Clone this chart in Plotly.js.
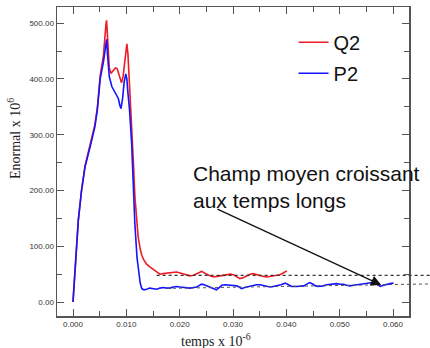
<!DOCTYPE html>
<html>
<head>
<meta charset="utf-8">
<script src="https://cdn.plot.ly/plotly-3.0.1.min.js"></script>
<style>html,body{margin:0;padding:0;background:#fff;}#chart{width:430px;height:348px;}</style>
</head>
<body>
<div id="chart"></div>
<script>
// Q2 (red) series
const q2Time = [0, 0.00075, 0.0010, 0.0016, 0.00225, 0.0032, 0.0041, 0.00456, 0.0051, 0.0057, 0.0059, 0.0062, 0.0063, 0.0064, 0.0066, 0.0068, 0.0071, 0.0076, 0.0080, 0.0083, 0.0086, 0.0089, 0.0091, 0.0094, 0.0097, 0.0100, 0.0101, 0.0103, 0.0105, 0.0107, 0.0110, 0.0113, 0.0116, 0.0119, 0.0122, 0.0126, 0.0129, 0.0133, 0.0138, 0.0144, 0.0151, 0.0157, 0.0163, 0.0169, 0.0176, 0.0182, 0.0188, 0.0194, 0.0201, 0.0207, 0.0213, 0.0219, 0.0226, 0.0232, 0.0237, 0.0241, 0.0246, 0.0251, 0.0257, 0.0263, 0.0270, 0.0276, 0.0282, 0.0288, 0.0295, 0.0301, 0.0307, 0.0313, 0.0320, 0.0326, 0.0332, 0.0338, 0.0344, 0.0351, 0.0357, 0.0363, 0.0370, 0.0376, 0.0382, 0.0388, 0.0394, 0.0398, 0.0401];
const q2Value = [0, 100, 147, 200, 244, 282, 318, 348, 406, 442, 470, 500, 505, 490, 440, 420, 410, 416, 420, 418, 408, 395, 393, 405, 430, 460, 463, 445, 410, 374, 320, 255, 190, 145, 118, 95, 84, 75, 68, 63, 58, 53, 50, 51, 52, 53, 54, 54, 52, 50, 48, 47, 48, 50, 53, 55, 53, 50, 47, 45, 46, 47, 49, 50, 50, 49, 46, 42, 44, 47, 50, 51, 49, 47, 46, 45, 46, 47, 48, 49, 52, 55, 56];

// P2 (blue) series
const p2Time = [0, 0.00075, 0.0010, 0.0016, 0.00225, 0.0032, 0.0041, 0.00456, 0.0051, 0.0057, 0.0061, 0.0063, 0.0065, 0.0068, 0.0073, 0.0079, 0.0085, 0.0088, 0.0090, 0.0093, 0.0096, 0.0099, 0.0101, 0.0103, 0.0106, 0.0110, 0.0113, 0.0116, 0.0120, 0.0123, 0.0126, 0.0129, 0.0133, 0.0138, 0.0144, 0.0151, 0.0157, 0.0163, 0.0169, 0.0176, 0.0182, 0.0188, 0.0194, 0.0201, 0.0207, 0.0213, 0.0219, 0.0226, 0.0232, 0.0237, 0.0241, 0.0246, 0.0251, 0.0257, 0.0263, 0.0269, 0.0274, 0.0279, 0.0285, 0.0294, 0.0301, 0.0307, 0.0313, 0.0316, 0.0322, 0.0329, 0.0336, 0.0344, 0.0351, 0.0359, 0.0365, 0.0371, 0.0377, 0.0383, 0.0390, 0.0395, 0.0398, 0.0404, 0.0410, 0.0419, 0.0426, 0.0433, 0.0440, 0.0444, 0.0450, 0.0455, 0.0460, 0.0465, 0.0469, 0.0476, 0.0482, 0.0488, 0.0494, 0.0500, 0.0507, 0.0513, 0.0519, 0.0526, 0.0532, 0.0538, 0.0544, 0.0550, 0.0557, 0.0562, 0.0566, 0.0571, 0.0576, 0.0582, 0.0588, 0.0595, 0.0601];
const p2Value = [0, 100, 147, 200, 242, 278, 314, 344, 400, 430, 460, 471, 440, 404, 386, 374, 365, 352, 347, 365, 395, 409, 400, 375, 345, 284, 210, 140, 80, 50, 34, 24, 22, 23, 25, 24, 23, 25, 26, 25, 25, 27, 28, 27, 26, 25, 25, 26, 27, 30, 32, 31, 29, 27, 25, 22, 26, 30, 31, 30, 30, 29, 26, 24, 26, 28, 30, 31, 31, 30, 28, 27, 28, 30, 31, 33, 34, 31, 28, 28, 28, 29, 33, 35, 32, 29, 28, 28, 29, 31, 32, 33, 33, 32, 32, 30, 29, 30, 31, 31, 32, 33, 34, 35, 35, 31, 28, 30, 32, 33, 34];

// Mean-level guide lines (value at start, value at end)
const upperMean = [48, 48];
const lowerMean = [24.5, 32.5];

// Texts
const noteText = "Champ moyen croissant<br>aux temps longs";
const xTitle = 'temps x 10<sup>-6</sup>';
const yTitle = 'Enormal x 10<sup>6</sup>';
const arrowTip = [0.0578, 30.5];
const arrowTail = [0.0268, 168];
const noteAnchor = [0.0222, 255];

const axisColor = '#555';
const tickFont = {family: 'Liberation Sans, Arial, sans-serif', size: 8, color: '#333'};
const titleFont = {family: 'Liberation Serif, Times New Roman, serif', size: 14, color: '#222'};

const traces = [
  {x: q2Time, y: q2Value, type: 'scatter', mode: 'lines', name: 'Q2', legendgroup: 'a',
   line: {color: '#ee1c24', width: 1.6}},
  {x: p2Time, y: p2Value, type: 'scatter', mode: 'lines', name: 'P2', legendgroup: 'b',
   line: {color: '#1414ff', width: 1.6}}
];

const layout = {
  width: 430, height: 348,
  margin: {l: 57, r: 21, t: 7, b: 32},
  paper_bgcolor: '#fff', plot_bgcolor: '#fff',
  showlegend: true,
  legend: {x: 0.672, y: 0.949, xanchor: 'left', yanchor: 'top', bgcolor: 'rgba(0,0,0,0)',
           font: {family: 'Liberation Sans, Arial, sans-serif', size: 20, color: '#111'},
           tracegroupgap: 2, itemwidth: 30},
  xaxis: {
    range: [-0.003, 0.063], tick0: 0, dtick: 0.01, tickformat: '.3f',
    ticks: 'inside', ticklen: 7, tickcolor: axisColor, tickwidth: 1,
    minor: {dtick: 0.005, ticks: 'inside', ticklen: 5, tickcolor: axisColor},
    showline: true, linecolor: axisColor, linewidth: 1.5, mirror: 'ticks',
    showgrid: false, zeroline: false, tickfont: tickFont
  },
  yaxis: {
    range: [-25, 529], tick0: 0, dtick: 100, tickformat: '.2f',
    ticks: 'inside', ticklen: 7, tickcolor: axisColor, tickwidth: 1,
    minor: {dtick: 50, ticks: 'inside', ticklen: 5, tickcolor: axisColor},
    showline: true, linecolor: axisColor, linewidth: 1.5, mirror: 'ticks',
    showgrid: false, zeroline: false, tickfont: tickFont
  },
  shapes: [
    {type: 'line', xref: 'paper', yref: 'y', x0: 0.283, x1: 1.06, y0: upperMean[0], y1: upperMean[1],
     line: {color: '#333', width: 1.2, dash: 'dot'}},
    {type: 'line', xref: 'paper', yref: 'y', x0: 0.3125, x1: 1.06, y0: lowerMean[0], y1: lowerMean[1],
     line: {color: '#555', width: 1, dash: 'dot'}}
  ],
  annotations: [
    {x: noteAnchor[0], y: noteAnchor[1], xref: 'x', yref: 'y', text: noteText, showarrow: false,
     xanchor: 'left', yanchor: 'top', align: 'left',
     font: {family: 'Liberation Sans, Arial, sans-serif', size: 21, color: '#111'}},
    {x: arrowTip[0], y: arrowTip[1], xref: 'x', yref: 'y', ax: arrowTail[0], ay: arrowTail[1],
     axref: 'x', ayref: 'y', text: '', showarrow: true, arrowhead: 2, arrowsize: 1.6,
     arrowwidth: 1.3, arrowcolor: '#111'},
    {x: 0.452, y: -0.078, xref: 'paper', yref: 'paper', text: xTitle, showarrow: false,
     xanchor: 'center', yanchor: 'middle', font: titleFont},
    {x: -0.122, y: 0.573, xref: 'paper', yref: 'paper', text: yTitle, showarrow: false,
     textangle: -90, xanchor: 'center', yanchor: 'middle', font: titleFont}
  ]
};

Plotly.newPlot('chart', traces, layout, {displayModeBar: false, staticPlot: true});
</script>
</body>
</html>
